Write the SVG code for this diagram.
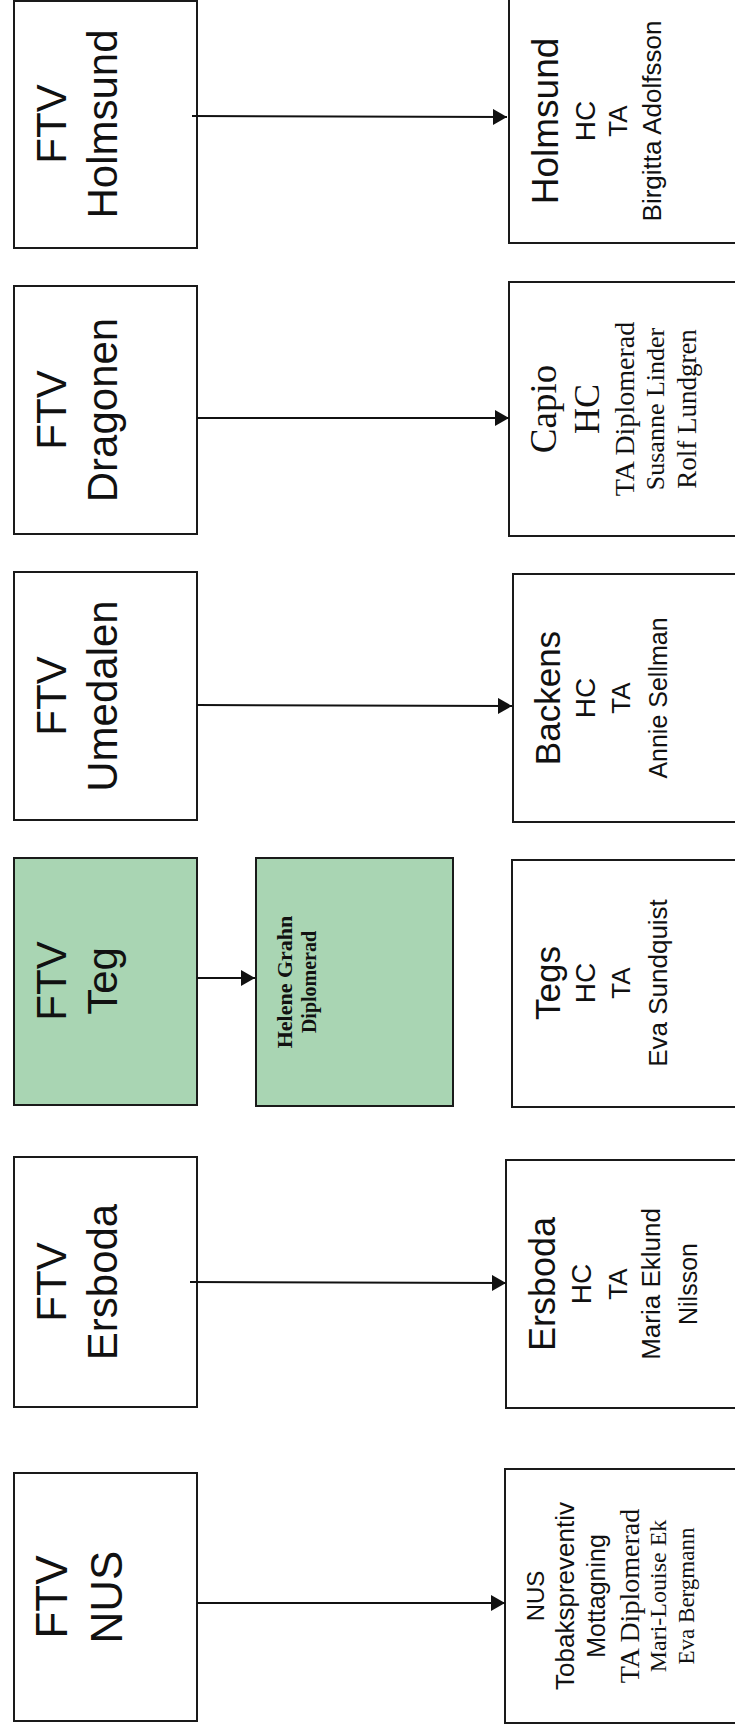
<svg xmlns="http://www.w3.org/2000/svg" width="735" height="1733" viewBox="0 0 735 1733">
<defs>
<marker id="arr" markerWidth="14" markerHeight="16" refX="14" refY="8" orient="auto" markerUnits="userSpaceOnUse"><path d="M0,0 L14,8 L0,16 z" fill="#111"/></marker>
<style>
.box{fill:#fff;stroke:#1a1a1a;stroke-width:2}
.green{fill:#a9d5b3}
.s{font-family:"Liberation Sans",Arial,sans-serif;text-anchor:middle;fill:#111}
.r{font-family:"Liberation Serif","Times New Roman",serif;text-anchor:middle;fill:#111}
.big{font-size:42px}
.conn{stroke:#111;stroke-width:2;fill:none}
</style>
</defs>
<rect width="735" height="1733" fill="#fff"/>

<g id="ftv-holmsund">
<rect class="box" x="14" y="1" width="183" height="247"/>
<text class="s big" transform="translate(66,124) rotate(-90)">FTV</text>
<text class="s big" transform="translate(117,124) rotate(-90)">Holmsund</text>
</g>
<g id="ftv-dragonen">
<rect class="box" x="14" y="286" width="183" height="248"/>
<text class="s big" transform="translate(66,410) rotate(-90)">FTV</text>
<text class="s big" transform="translate(117,410) rotate(-90)">Dragonen</text>
</g>
<g id="ftv-umedalen">
<rect class="box" x="14" y="572" width="183" height="248"/>
<text class="s big" transform="translate(66,696) rotate(-90)">FTV</text>
<text class="s big" transform="translate(117,696) rotate(-90)">Umedalen</text>
</g>
<g id="ftv-teg">
<rect class="box green" x="14" y="858" width="183" height="247"/>
<text class="s big" transform="translate(66,981) rotate(-90)">FTV</text>
<text class="s big" transform="translate(117,981) rotate(-90)">Teg</text>
</g>
<g id="ftv-ersboda">
<rect class="box" x="14" y="1157" width="183" height="250"/>
<text class="s big" transform="translate(66,1282) rotate(-90)">FTV</text>
<text class="s big" transform="translate(117,1282) rotate(-90)">Ersboda</text>
</g>
<g id="ftv-nus">
<rect class="box" x="14" y="1473" width="183" height="248"/>
<text class="s" font-size="44" transform="translate(67,1597) rotate(-90)">FTV</text>
<text class="s" font-size="44" transform="translate(122,1597) rotate(-90)">NUS</text>
</g>

<g id="helene-grahn">
<rect class="box green" x="256" y="858" width="197" height="248"/>
<text class="r" font-size="22" font-weight="bold" transform="translate(292,982) rotate(-90)">Helene Grahn</text>
<text class="r" font-size="20" font-weight="bold" transform="translate(316,982) rotate(-90)">Diplomerad</text>
</g>

<g id="holmsund">
<rect class="box" x="509" y="-2" width="240" height="245"/>
<text class="s" font-size="37" transform="translate(558,121) rotate(-90)">Holmsund</text>
<text class="s" font-size="28" transform="translate(595,121) rotate(-90)">HC</text>
<text class="s" font-size="26" transform="translate(627,121) rotate(-90)">TA</text>
<text class="s" font-size="26" transform="translate(661,121) rotate(-90)">Birgitta Adolfsson</text>
</g>
<g id="capio">
<rect class="box" x="509" y="282" width="240" height="254"/>
<text class="r" font-size="37" transform="translate(556,409) rotate(-90)">Capio</text>
<text class="r" font-size="36" transform="translate(599,409) rotate(-90)">HC</text>
<text class="r" font-size="28" transform="translate(634,409) rotate(-90)">TA Diplomerad</text>
<text class="r" font-size="26" transform="translate(664,409) rotate(-90)">Susanne Linder</text>
<text class="r" font-size="27" transform="translate(696,409) rotate(-90)">Rolf Lundgren</text>
</g>
<g id="backens">
<rect class="box" x="513" y="574" width="240" height="248"/>
<text class="s" font-size="35" transform="translate(560,698) rotate(-90)">Backens</text>
<text class="s" font-size="28" transform="translate(595,698) rotate(-90)">HC</text>
<text class="s" font-size="26" transform="translate(630,698) rotate(-90)">TA</text>
<text class="s" font-size="25" transform="translate(667,698) rotate(-90)">Annie Sellman</text>
</g>
<g id="tegs">
<rect class="box" x="512" y="860" width="240" height="247"/>
<text class="s" font-size="35" transform="translate(560,983) rotate(-90)">Tegs</text>
<text class="s" font-size="28" transform="translate(595,983) rotate(-90)">HC</text>
<text class="s" font-size="26" transform="translate(630,983) rotate(-90)">TA</text>
<text class="s" font-size="26" transform="translate(667,983) rotate(-90)">Eva Sundquist</text>
</g>
<g id="ersboda">
<rect class="box" x="506" y="1160" width="240" height="248"/>
<text class="s" font-size="36" transform="translate(555,1284) rotate(-90)">Ersboda</text>
<text class="s" font-size="28" transform="translate(591,1284) rotate(-90)">HC</text>
<text class="s" font-size="26" transform="translate(627,1284) rotate(-90)">TA</text>
<text class="s" font-size="26" transform="translate(660,1284) rotate(-90)">Maria Eklund</text>
<text class="s" font-size="25" transform="translate(697,1284) rotate(-90)">Nilsson</text>
</g>
<g id="nus">
<rect class="box" x="505" y="1469" width="240" height="254"/>
<text class="s" font-size="24" transform="translate(544,1596) rotate(-90)">NUS</text>
<text class="s" font-size="26" transform="translate(574,1596) rotate(-90)">Tobakspreventiv</text>
<text class="s" font-size="25" transform="translate(605,1596) rotate(-90)">Mottagning</text>
<text class="r" font-size="28" transform="translate(639,1596) rotate(-90)">TA Diplomerad</text>
<text class="r" font-size="24" transform="translate(666,1596) rotate(-90)">Mari-Louise Ek</text>
<text class="r" font-size="23" transform="translate(694,1596) rotate(-90)">Eva Bergmann</text>
</g>

<g id="connectors">
<line class="conn" x1="192" y1="116" x2="507" y2="117" marker-end="url(#arr)"/>
<line class="conn" x1="197" y1="418" x2="509" y2="418" marker-end="url(#arr)"/>
<line class="conn" x1="197" y1="705" x2="512" y2="706" marker-end="url(#arr)"/>
<line class="conn" x1="197" y1="978" x2="255" y2="978" marker-end="url(#arr)"/>
<line class="conn" x1="190" y1="1282" x2="506" y2="1283" marker-end="url(#arr)"/>
<line class="conn" x1="197" y1="1603" x2="505" y2="1603" marker-end="url(#arr)"/>
</g>
</svg>
